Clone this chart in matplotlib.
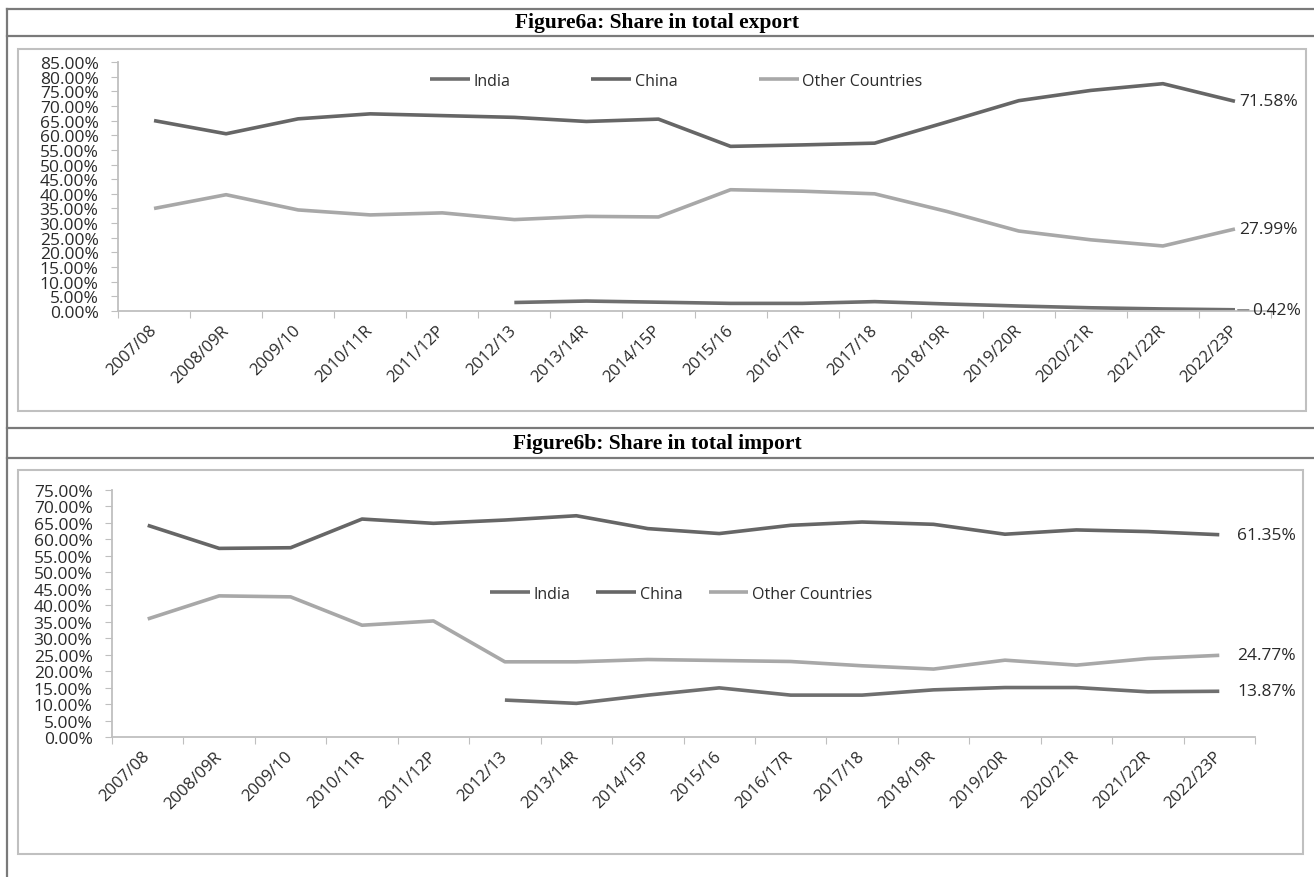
import numpy as np
import matplotlib.pyplot as plt
from matplotlib.lines import Line2D
from matplotlib.patches import Rectangle
from matplotlib.ticker import FixedLocator, FuncFormatter

W, H = 1314, 878

years = ['2007/08', '2008/09R', '2009/10', '2010/11R', '2011/12P', '2012/13',
         '2013/14R', '2014/15P', '2015/16', '2016/17R', '2017/18', '2018/19R',
         '2019/20R', '2020/21R', '2021/22R', '2022/23P']
series_names = ['India', 'China', 'Other Countries']

# share in total export (%)
export_india = [np.nan] * 5 + [2.9, 3.4, 3.0, 2.6, 2.6, 3.2, 2.4, 1.7, 1.1, 0.7, 0.42]
export_china = [65.0, 60.5, 65.6, 67.3, 66.7, 66.1, 64.7, 65.5, 56.2, 56.7, 57.3, 64.5, 71.8, 75.3, 77.6, 71.58]
export_other = [35.0, 39.7, 34.5, 32.8, 33.5, 31.2, 32.3, 32.1, 41.4, 40.9, 40.0, 34.0, 27.3, 24.3, 22.2, 27.99]

# share in total import (%)
import_india = [np.nan] * 5 + [11.2, 10.2, 12.7, 14.9, 12.7, 12.7, 14.3, 15.0, 15.0, 13.7, 13.87]
import_china = [64.2, 57.2, 57.4, 66.1, 64.8, 65.8, 67.1, 63.2, 61.7, 64.2, 65.2, 64.5, 61.5, 62.8, 62.3, 61.35]
import_other = [35.8, 42.8, 42.5, 33.9, 35.2, 22.8, 22.8, 23.5, 23.2, 22.9, 21.6, 20.6, 23.3, 21.8, 23.8, 24.77]

colors = ['#6f6f6f', '#666666', '#a8a8a8']
TICK_FONT = 'Open Sans'
TEXT_COL = '#2a2a2a'


def fx(px):
    return px / W


def fy(py):
    return 1 - py / H


def hline(fig, y, x0=7, x1=W, color='#7a7a7a', lw=1.6):
    fig.add_artist(Line2D([fx(x0), fx(x1)], [fy(y), fy(y)], color=color, lw=lw,
                          transform=fig.transFigure))


def frame(fig, x0, y0, x1, y1):
    fig.add_artist(Rectangle((fx(x0), fy(y1)), fx(x1) - fx(x0), fy(y0) - fy(y1),
                             fill=False, edgecolor='#c0c0c0', lw=1.5,
                             transform=fig.transFigure))


def draw_chart(ax, data, ymax, end_offsets):
    x = np.arange(len(years))
    for vals, name, c in zip(data, series_names, colors):
        ax.plot(x, vals, color=c, lw=2.6, label=name, solid_capstyle='butt')
    ax.set_xlim(-0.5, len(years) - 0.5)
    ax.set_ylim(0, ymax)
    ax.set_yticks(np.arange(0, ymax + 0.1, 5))
    ax.yaxis.set_major_formatter(FuncFormatter(lambda v, p: '%.2f%%' % v))
    ax.xaxis.set_major_locator(FixedLocator(np.arange(-0.5, len(years), 1.0)))
    ax.xaxis.set_minor_locator(FixedLocator(x))
    ax.set_xticklabels([], minor=False)
    ax.set_xticklabels(years, minor=True, rotation=45, ha='right', va='center',
                       rotation_mode='anchor', fontsize=12, family=TICK_FONT,
                       color=TEXT_COL)
    ax.tick_params(axis='x', which='minor', length=0, pad=12)
    ax.tick_params(axis='x', which='major', length=5, color='#bfbfbf', direction='out')
    ax.tick_params(axis='y', length=5, color='#bfbfbf', pad=9, labelsize=12.5,
                   labelcolor=TEXT_COL)
    for lab in ax.get_yticklabels():
        lab.set_family(TICK_FONT)
    for s in ['top', 'right']:
        ax.spines[s].set_visible(False)
    for s in ['left', 'bottom']:
        ax.spines[s].set_color('#bfbfbf')
        ax.spines[s].set_linewidth(1.3)
    # value labels at the last point
    for vals, off in zip(data, end_offsets):
        last = vals[-1]
        ax.annotate('%.2f%%' % last, xy=(x[-1], last), xytext=(off, 0),
                    textcoords='offset points', va='center', ha='left',
                    fontsize=12.5, family=TICK_FONT, color=TEXT_COL,
                    annotation_clip=False)


def add_legend(ax, cx, cy, spacing):
    leg = ax.legend(loc='center', bbox_to_anchor=(fx(cx), fy(cy)),
                    bbox_transform=fig.transFigure, ncol=3, frameon=False,
                    handlelength=2.5, handletextpad=0.2, columnspacing=spacing,
                    prop={'family': TICK_FONT, 'size': 11.5})
    for t in leg.get_texts():
        t.set_color(TEXT_COL)


fig = plt.figure(figsize=(W / 100, H / 100), dpi=100)

# table lines and frames
fig.add_artist(Line2D([fx(7), fx(7)], [fy(10), 0], color='#7a7a7a', lw=1.6,
                      transform=fig.transFigure))
for y in [10, 37, 429, 459]:
    hline(fig, y)
frame(fig, 18, 50, 1306, 412)
frame(fig, 18, 471, 1303, 855)

fig.text(fx(657), fy(23), 'Figure6a: Share in total export', ha='center', va='center',
         family='Liberation Serif', weight='bold', fontsize=15.5)
fig.text(fx(657), fy(444), 'Figure6b: Share in total import', ha='center', va='center',
         family='Liberation Serif', weight='bold', fontsize=15.5)

# Figure 6a
ax1 = fig.add_axes([fx(118), fy(312), fx(1271) - fx(118), fy(63) - fy(312)])
draw_chart(ax1, [export_india, export_china, export_other], 85, [12, 3, 3])
ax1.annotate('', xy=(len(years) - 1, export_india[-1]), xytext=(12, 0),
             textcoords='offset points',
             arrowprops=dict(arrowstyle='-', color='#888888', lw=1))
add_legend(ax1, 676, 82, 5.1)

# Figure 6b
ax2 = fig.add_axes([fx(112), fy(738), fx(1255) - fx(112), fy(490.7) - fy(738)])
draw_chart(ax2, [import_india, import_china, import_other], 75, [13, 13, 13])
add_legend(ax2, 681, 595, 1.65)

fig.savefig('out.png', dpi=100)
